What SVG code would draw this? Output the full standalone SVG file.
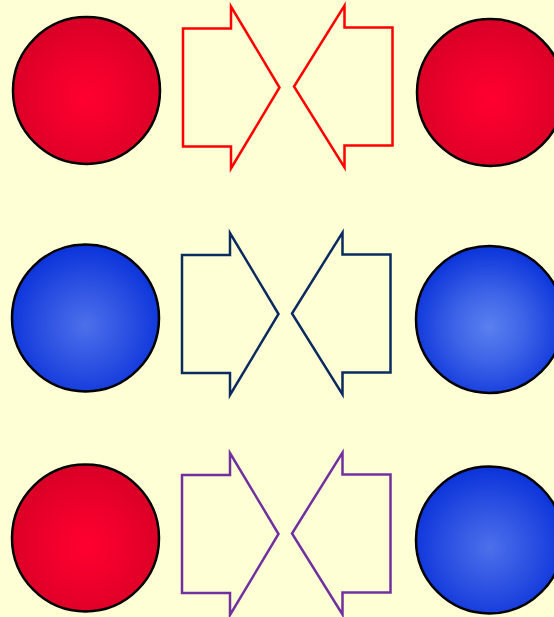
<svg xmlns="http://www.w3.org/2000/svg" width="554" height="617" viewBox="0 0 554 617">
<style>
.ball{stroke:#000;stroke-width:2.5}
.arr{fill:none;stroke-width:2.5;stroke-linejoin:miter}
.red{stroke:#FF0000}
.navy{stroke:#0B2A60}
.purple{stroke:#7030A0}
</style>
<defs>
<radialGradient id="gRed" cx="0.5" cy="0.55" r="0.55">
<stop offset="0" stop-color="#FF0030"/>
<stop offset="0.4" stop-color="#F2002D"/>
<stop offset="1" stop-color="#D80026"/>
</radialGradient>
<radialGradient id="gBlue" cx="0.5" cy="0.55" r="0.55">
<stop offset="0" stop-color="#4C70EA"/>
<stop offset="0.4" stop-color="#3458E4"/>
<stop offset="1" stop-color="#0A33DA"/>
</radialGradient>
<radialGradient id="gBlue2" cx="0.5" cy="0.55" r="0.55">
<stop offset="0" stop-color="#5A80F0"/>
<stop offset="0.4" stop-color="#4066E8"/>
<stop offset="1" stop-color="#0A33DA"/>
</radialGradient>
<path id="arrL" d="M0,0 H48 V-22 L96.5,59 L48,140 V118 H0 Z"/>
<path id="arrR" d="M0,0 H-48 V-22 L-98.5,59 L-48,140 V118 H0 Z"/>
</defs>
<rect width="554" height="617" fill="#FFFFD5"/>
<g id="ball-r1-left"><circle class="ball" cx="86.5" cy="90.5" r="73.5" fill="url(#gRed)"/></g>
<g id="ball-r1-right"><circle class="ball" cx="490.5" cy="92.5" r="73.5" fill="url(#gRed)"/></g>
<g id="ball-r2-left"><circle class="ball" cx="85.5" cy="318" r="73.5" fill="url(#gBlue)"/></g>
<g id="ball-r2-right"><circle class="ball" cx="489.5" cy="319.5" r="73.5" fill="url(#gBlue2)"/></g>
<g id="ball-r3-left"><circle class="ball" cx="85.5" cy="538" r="73.5" fill="url(#gRed)"/></g>
<g id="ball-r3-right"><circle class="ball" cx="489.5" cy="540" r="73.5" fill="url(#gBlue)"/></g>
<g id="arrows">
<g id="arrow-r1-left"><use href="#arrL" class="arr red" x="183" y="28.5"/></g>
<g id="arrow-r1-right"><use href="#arrR" class="arr red" x="392.5" y="27.5"/></g>
<g id="arrow-r2-left"><use href="#arrL" class="arr navy" x="182" y="255"/></g>
<g id="arrow-r2-right"><use href="#arrR" class="arr navy" x="390.5" y="254.5"/></g>
<g id="arrow-r3-left"><use href="#arrL" class="arr purple" x="182" y="475"/></g>
<g id="arrow-r3-right"><use href="#arrR" class="arr purple" x="390.5" y="474.5"/></g>
</g>
</svg>
